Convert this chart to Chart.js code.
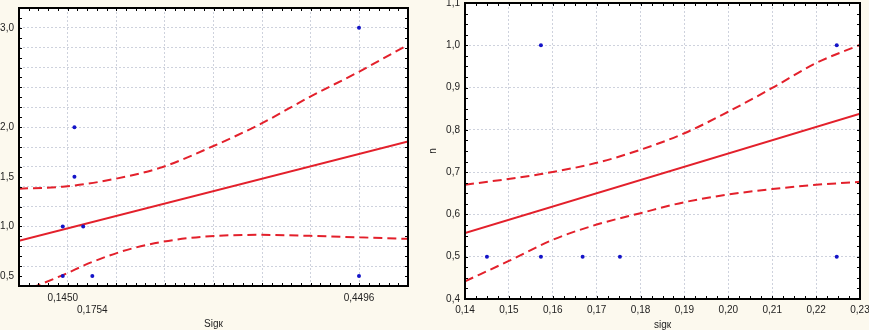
<!DOCTYPE html>
<html>
<head>
<meta charset="utf-8">
<script src="https://cdn.jsdelivr.net/npm/chart.js@4.4.1/dist/chart.umd.min.js"></script>
<style>
  html, body { margin: 0; padding: 0; background: #fcf9ee; }
  #wrap { position: relative; width: 869px; height: 330px; overflow: hidden; }
  #left { position: absolute; left: 0; top: 0; }
  #right { position: absolute; left: 430px; top: 0; }
</style>
</head>
<body>
<div id="wrap">
  <canvas id="left" width="420" height="330"></canvas>
  <canvas id="right" width="439" height="330"></canvas>
</div>
<script>
// ---- left panel (Sigк) ----
const sigLeft = [0.145, 0.145, 0.157, 0.157, 0.166, 0.1754, 0.4496, 0.4496];
const valLeft = [0.5, 1.0, 2.0, 1.5, 1.0, 0.5, 3.0, 0.5];

const fitLeftX = [0.10, 0.50];
const fitLeftY = [0.855, 1.855];

const upperLeftX = [0.10, 0.145, 0.183, 0.245, 0.30, 0.348, 0.40, 0.45, 0.50];
const upperLeftY = [1.38, 1.40, 1.45, 1.59, 1.81, 2.03, 2.31, 2.56, 2.83];
const lowerLeftX = [0.10, 0.145, 0.176, 0.217, 0.272, 0.348, 0.40, 0.45, 0.50];
const lowerLeftY = [0.33, 0.51, 0.645, 0.78, 0.88, 0.915, 0.905, 0.89, 0.875];

const leftXLabels = [0.1450, 0.1754, 0.4496];
const leftXGrid = [0.10, 0.15, 0.20, 0.25, 0.30, 0.35, 0.40, 0.45, 0.50];
const leftYLabels = [0.5, 1.0, 1.5, 2.0, 3.0];
const leftYGrid = [0.4, 0.6, 0.8, 1.0, 1.2, 1.4, 1.6, 1.8, 2.0, 2.2, 2.4, 2.6, 2.8, 3.0, 3.2];

// ---- right panel (sigк vs h) ----
const sigRight = [0.145, 0.1573, 0.1573, 0.1668, 0.1753, 0.2247, 0.2247];
const hRight = [0.5, 1.0, 0.5, 0.5, 0.5, 1.0, 0.5];

const fitRightX = [0.14, 0.23];
const fitRightY = [0.556, 0.838];

const upperRightX = [0.14, 0.157, 0.17, 0.18, 0.19, 0.20, 0.21, 0.22, 0.23];
const upperRightY = [0.670, 0.695, 0.722, 0.753, 0.792, 0.843, 0.899, 0.958, 1.001];
const lowerRightX = [0.14, 0.15, 0.16, 0.17, 0.18, 0.19, 0.20, 0.21, 0.22, 0.23];
const lowerRightY = [0.442, 0.49, 0.54, 0.576, 0.603, 0.629, 0.647, 0.66, 0.67, 0.677];

const rightXTicks = [0.14, 0.15, 0.16, 0.17, 0.18, 0.19, 0.20, 0.21, 0.22, 0.23];
const rightYTicks = [0.4, 0.5, 0.6, 0.7, 0.8, 0.9, 1.0, 1.1];

const RED = '#e3202b';
const BLUE = '#1414c8';
const GRID = 'rgba(190,195,210,0.75)';
const FONT = { family: 'Liberation Sans, Arial, sans-serif', size: 10 };

const has = (list, v) => list.some(t => Math.abs(t - v) < 1e-9);
const pts = (xs, ys) => xs.map((x, i) => ({ x: x, y: ys[i] }));
const comma = (v, d) => v.toFixed(d).replace('.', ',');

function mergeTicks(a, b) {
  const out = [];
  a.concat(b).sort((p, q) => p - q).forEach(v => {
    if (!has(out, v)) out.push(v);
  });
  return out.map(v => ({ value: v }));
}

// white plot area + black frame with small inward ticks
const plotFrame = {
  id: 'plotFrame',
  beforeDraw(chart) {
    const a = chart.chartArea, ctx = chart.ctx;
    ctx.save();
    ctx.fillStyle = '#ffffff';
    ctx.fillRect(a.left, a.top, a.right - a.left, a.bottom - a.top);
    ctx.restore();
  },
  afterDatasetsDraw(chart, args, opts) {
    const a = chart.chartArea, ctx = chart.ctx;
    const xs = chart.scales.x, ys = chart.scales.y;
    ctx.save();
    ctx.strokeStyle = '#000';
    ctx.lineWidth = 1;
    ctx.beginPath();
    for (let v = xs.min; v <= xs.max + 1e-9; v += opts.xMinor) {
      const p = Math.round(xs.getPixelForValue(v)) + 0.5;
      ctx.moveTo(p, a.top); ctx.lineTo(p, a.top + 3);
      ctx.moveTo(p, a.bottom); ctx.lineTo(p, a.bottom - 3);
    }
    for (let v = ys.min; v <= ys.max + 1e-9; v += opts.yMinor) {
      const p = Math.round(ys.getPixelForValue(v)) + 0.5;
      ctx.moveTo(a.left, p); ctx.lineTo(a.left + 3, p);
      ctx.moveTo(a.right, p); ctx.lineTo(a.right - 3, p);
    }
    ctx.stroke();
    ctx.lineWidth = 2;
    ctx.strokeRect(a.left, a.top, a.right - a.left, a.bottom - a.top);
    ctx.restore();
  }
};

function datasets(sx, sy, fx, fy, ux, uy, lx, ly) {
  return [
    { data: pts(sx, sy), showLine: false, pointRadius: 2, pointHoverRadius: 2,
      pointBackgroundColor: BLUE, pointBorderWidth: 0, order: 0 },
    { data: pts(fx, fy), showLine: true, pointRadius: 0, borderColor: RED,
      borderWidth: 2, order: 1 },
    { data: pts(ux, uy), showLine: true, pointRadius: 0, borderColor: RED,
      borderWidth: 2, borderDash: [9, 5], cubicInterpolationMode: 'monotone', order: 2 },
    { data: pts(lx, ly), showLine: true, pointRadius: 0, borderColor: RED,
      borderWidth: 2, borderDash: [9, 5], cubicInterpolationMode: 'monotone', order: 3 }
  ];
}

// left chart
new Chart(document.getElementById('left'), {
  type: 'scatter',
  data: { datasets: datasets(sigLeft, valLeft, fitLeftX, fitLeftY,
    upperLeftX, upperLeftY, lowerLeftX, lowerLeftY) },
  plugins: [plotFrame],
  options: {
    responsive: false,
    animation: false,
    events: [],
    layout: { padding: { top: 8, right: 12, left: 0, bottom: 0 } },
    plugins: {
      legend: { display: false },
      tooltip: { enabled: false },
      plotFrame: { xMinor: 0.01, yMinor: 0.1 }
    },
    scales: {
      x: {
        type: 'linear', min: 0.1, max: 0.5,
        afterBuildTicks: s => { s.ticks = mergeTicks(leftXGrid, leftXLabels); },
        afterFit: s => { s.height = 44; s.paddingLeft = 0; s.paddingRight = 0; },
        grid: { drawTicks: false, color: c => c.tick && has(leftXGrid, c.tick.value) ? GRID : 'rgba(0,0,0,0)' },
        border: { display: false, dash: [2, 2] },
        ticks: {
          autoSkip: false, maxRotation: 0, padding: 6, color: '#222', font: FONT,
          callback: v => {
            if (!has(leftXLabels, v)) return '';
            return Math.abs(v - 0.1754) < 1e-9 ? ['', comma(v, 4)] : comma(v, 4);
          }
        },
        title: { display: true, text: 'Sigк', color: '#222', font: { ...FONT, lineHeight: 1.2 }, padding: 0 }
      },
      y: {
        type: 'linear', min: 0.4, max: 3.2,
        afterBuildTicks: s => { s.ticks = mergeTicks(leftYGrid, leftYLabels); },
        afterFit: s => { s.width = 19; s.paddingTop = 0; s.paddingBottom = 0; },
        grid: { drawTicks: false, color: c => c.tick && has(leftYGrid, c.tick.value) ? GRID : 'rgba(0,0,0,0)' },
        border: { display: false, dash: [2, 2] },
        ticks: {
          autoSkip: false, padding: 5, color: '#222', font: FONT,
          callback: v => has(leftYLabels, v) ? comma(v, 1) : ''
        }
      }
    }
  }
});

// right chart
new Chart(document.getElementById('right'), {
  type: 'scatter',
  data: { datasets: datasets(sigRight, hRight, fitRightX, fitRightY,
    upperRightX, upperRightY, lowerRightX, lowerRightY) },
  plugins: [plotFrame],
  options: {
    responsive: false,
    animation: false,
    events: [],
    layout: { padding: { top: 3, right: 9, left: 0, bottom: 0 } },
    plugins: {
      legend: { display: false },
      tooltip: { enabled: false },
      plotFrame: { xMinor: 0.0025, yMinor: 0.025 }
    },
    scales: {
      x: {
        type: 'linear', min: 0.14, max: 0.23,
        afterBuildTicks: s => { s.ticks = rightXTicks.map(v => ({ value: v })); },
        afterFit: s => { s.height = 31; s.paddingLeft = 0; s.paddingRight = 0; },
        grid: { drawTicks: false, color: GRID },
        border: { display: false, dash: [2, 2] },
        ticks: { autoSkip: false, maxRotation: 0, padding: 5, color: '#222', font: FONT,
          callback: v => comma(v, 2) },
        title: { display: true, text: 'sigк', color: '#222', font: { ...FONT, lineHeight: 1.0 }, padding: 0 }
      },
      y: {
        type: 'linear', min: 0.4, max: 1.1,
        afterBuildTicks: s => { s.ticks = rightYTicks.map(v => ({ value: v })); },
        afterFit: s => { s.width = 35; s.paddingTop = 0; s.paddingBottom = 0; },
        grid: { drawTicks: false, color: GRID },
        border: { display: false, dash: [2, 2] },
        ticks: { autoSkip: false, padding: 5, color: '#222', font: FONT,
          callback: v => comma(v, 1) },
        title: { display: true, text: 'h', color: '#222', font: { ...FONT, lineHeight: 0.6 }, padding: 0 }
      }
    }
  }
});
</script>
</body>
</html>
